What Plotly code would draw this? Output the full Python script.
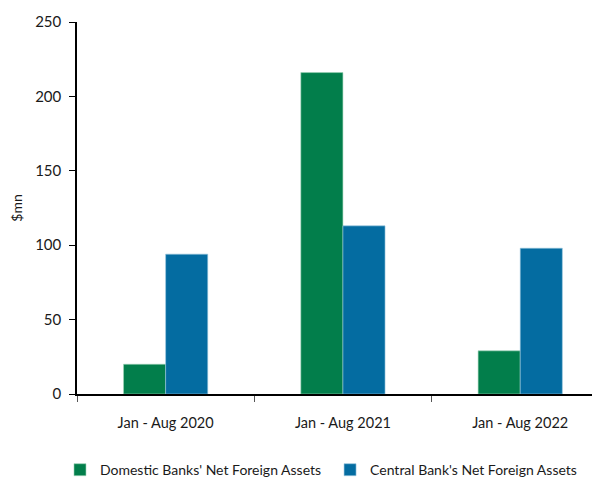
import plotly.graph_objects as go

categories = ["Jan - Aug 2020", "Jan - Aug 2021", "Jan - Aug 2022"]
domestic = [20, 216, 29]
central = [94, 113, 98]
series_names = ["Domestic Banks' Net Foreign Assets", "Central Bank's Net Foreign Assets"]
y_ticks = [0, 50, 100, 150, 200, 250]

FONT = "Lato, 'Noto Sans', sans-serif"

fig = go.Figure()
fig.add_trace(go.Bar(x=categories, y=domestic, name=series_names[0], legend="legend",
                     marker=dict(color="#027E4B", line=dict(color="#9fd3b8", width=0.6))))
fig.add_trace(go.Bar(x=categories, y=central, name=series_names[1], legend="legend2",
                     marker=dict(color="#046CA1", line=dict(color="#9cc8df", width=0.6))))

legend_common = dict(orientation="h", xref="container", yref="container",
                     xanchor="left", y=0.023, yanchor="middle",
                     font=dict(size=14, color="#1a1a1a"), itemwidth=30,
                     bgcolor="rgba(0,0,0,0)")

fig.update_layout(
    width=592, height=473,
    margin=dict(l=69, r=0, t=14, b=87, autoexpand=False),
    paper_bgcolor="white", plot_bgcolor="white",
    barmode="group", bargap=0.525, bargroupgap=0,
    font=dict(family=FONT, size=14, color="#1a1a1a"),
    showlegend=True,
    legend=dict(x=0.0878, **legend_common),
    legend2=dict(x=0.544, **legend_common),
)
fig.update_xaxes(
    type="category", range=[-0.5, 2.45], automargin=False,
    showline=True, linecolor="black", linewidth=1.5,
    ticks="outside", tickson="boundaries", ticklen=6, tickcolor="#555555",
    showgrid=False, tickfont=dict(size=14.5, color="#1a1a1a"),
    ticklabelstandoff=15,
)
fig.update_yaxes(
    range=[0, 250], tickvals=y_ticks, automargin=False,
    showline=True, linecolor="black", linewidth=1.5,
    ticks="outside", ticklen=6, tickcolor="black",
    showgrid=False, zeroline=False,
    tickfont=dict(size=15, color="#1a1a1a"),
    ticklabelstandoff=5,
    title=dict(text="$mn", font=dict(size=14, color="#1a1a1a"), standoff=16),
)

fig.write_html("out.html")
